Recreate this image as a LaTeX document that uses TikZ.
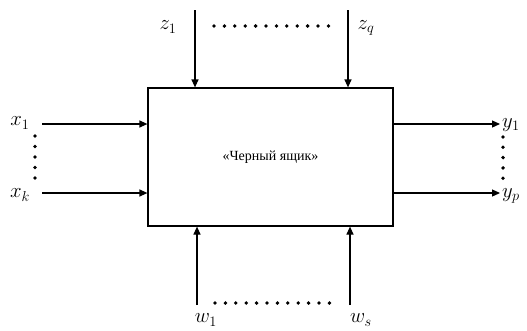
\documentclass[tikz,border=0pt]{standalone}
\usepackage{fontspec}
\setmainfont{Liberation Serif}
\usetikzlibrary{arrows.meta}
\begin{document}
\begin{tikzpicture}[x=1pt,y=-1pt,
  conn/.style={draw, line width=1.2pt, -{Triangle[length=8pt,width=7pt]}},
  lbl/.style={inner sep=0pt, font=\fontsize{20}{22}\selectfont},
  dot/.style={fill=black}]
\useasboundingbox (0,0) rectangle (527,330);
\node[draw, line width=1.2pt, minimum width=245pt, minimum height=138pt, inner sep=0pt,
  font=\fontsize{14}{16}\selectfont] (box) at (270.5,157) {«Черный ящик»};
% top inputs
\coordinate (zs1) at (195,10);
\coordinate (zsq) at (348,10);
\draw[conn] (zs1) -- (zs1 |- box.north);
\draw[conn] (zsq) -- (zsq |- box.north);
\node[lbl] (z1) at (168,27) {$z_1$};
\node[lbl] (zq) at (366,28) {$z_q$};
\foreach \i in {0,...,11} \fill[dot] (214+\i*10.4,26) circle (1.9pt);
% bottom inputs
\coordinate (ws1) at (197,305);
\coordinate (wss) at (350,305);
\draw[conn] (ws1) -- (ws1 |- box.south);
\draw[conn] (wss) -- (wss |- box.south);
\node[lbl] (w1) at (206,320) {$w_1$};
\node[lbl] (ws) at (361,320) {$w_s$};
\foreach \i in {0,...,11} \fill[dot] (215+\i*10.4,303) circle (1.9pt);
% left inputs
\coordinate (xs1) at (42,124);
\coordinate (xsk) at (42,193);
\draw[conn] (xs1) -- (xs1 -| box.west);
\draw[conn] (xsk) -- (xsk -| box.west);
\node[lbl] (x1) at (20,123) {$x_1$};
\node[lbl] (xk) at (20,195) {$x_k$};
\foreach \i in {0,...,4} \fill[dot] (35,136+\i*10.5) circle (1.9pt);
% right outputs
\coordinate (ye1) at (500,124);
\coordinate (yep) at (500,193);
\draw[conn] (ye1 -| box.east) -- (ye1);
\draw[conn] (yep -| box.east) -- (yep);
\node[lbl, anchor=west] (y1) at (502,125) {$y_1$};
\node[lbl, anchor=west] (yp) at (502,196) {$y_p$};
\foreach \i in {0,...,4} \fill[dot] (503,137+\i*10.3) circle (1.9pt);
\end{tikzpicture}
\end{document}
